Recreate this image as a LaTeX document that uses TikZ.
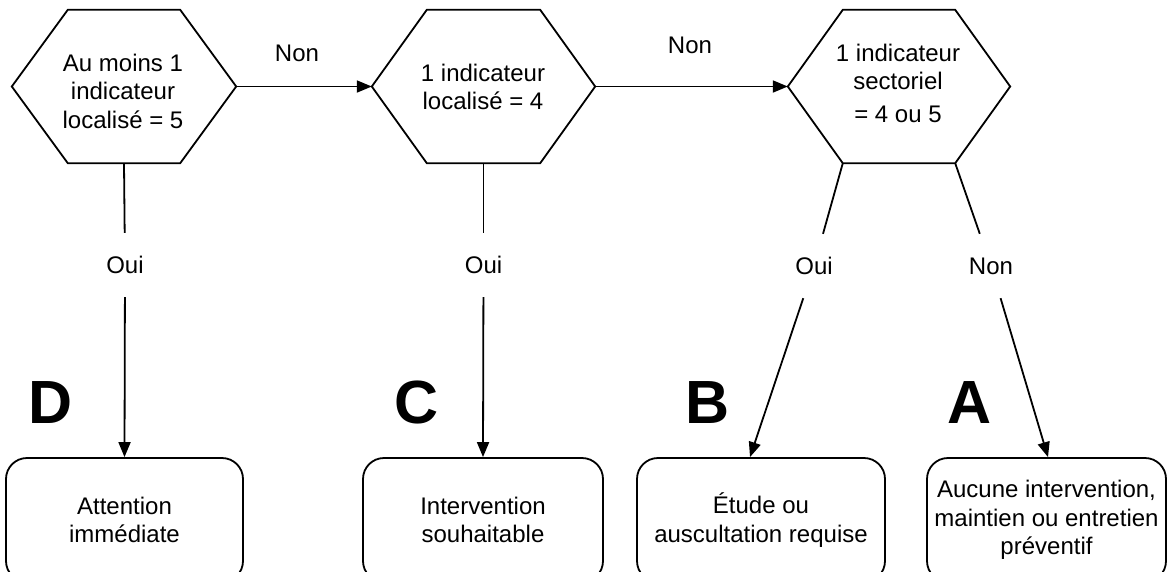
\documentclass[tikz,border=0pt]{standalone}
\usepackage{fontspec}
\setmainfont{Liberation Sans}
\usetikzlibrary{arrows.meta,calc}
\newcommand\hexoutline[2]{\draw[ln] (#1.west) -- ([xshift=#2]#1.north west) -- ([xshift=-#2]#1.north east) -- (#1.east) -- ([xshift=-#2]#1.south east) -- ([xshift=#2]#1.south west) -- cycle;}
\begin{document}
\begin{tikzpicture}[x=1pt,y=-1pt,
  ln/.style={line width=1.8pt, black},
  arr/.style={ln, -{Triangle[length=15pt,width=12pt]}},
  txt/.style={font=\fontsize{24}{28.5}\selectfont, align=center, inner sep=0pt},
  hexnode/.style={minimum height=153pt, inner sep=0pt},
  yesno/.style={txt, minimum height=64pt, minimum width=40pt},
  outbox/.style={ln, draw, rounded corners=21pt, minimum height=124pt, txt},
  big/.style={font=\fontsize{61}{61}\selectfont\bfseries, inner sep=0pt, anchor=base}
]
\useasboundingbox (0,0) rectangle (1168,571);
\clip (0,0) rectangle (1168,571);

% hexagons
\node[hexnode, minimum width=224pt] (h1) at (124,86.5) {};
\node[hexnode, minimum width=223pt] (h2) at (483.5,86.5) {};
\node[hexnode, minimum width=222pt] (h3) at (899,86.5) {};
\hexoutline{h1}{56}
\hexoutline{h2}{55}
\hexoutline{h3}{55}
\node[txt] (t1) at (123,91) {Au moins 1\\indicateur\\localisé = 5};
\node[txt] (t2) at (483,87) {1 indicateur\\localisé = 4};
\node[txt] (t3) at (898,83) {1 indicateur\\sectoriel\\[4pt]= 4 ou 5};

\coordinate (h3bl) at ([xshift=55]h3.south west);
\coordinate (h3br) at ([xshift=-55]h3.south east);

% outcome boxes
\node[outbox, minimum width=237pt] (bD) at (124.5,520) {Attention\\immédiate};
\node[outbox, minimum width=240pt] (bC) at (483,520) {Intervention\\souhaitable};
\node[outbox, minimum width=248pt] (bB) at (761,520) {Étude ou\\auscultation requise};
\node[outbox, minimum width=239pt] (bA) at (1046.5,520) {Aucune intervention,\\maintien ou entretien\\préventif};

% big letters
\node[big] (lD) at (51,423) {D};
\node[big] (lC) at (417,423) {C};
\node[big] (lB) at (708,423) {B};
\node[big] (lA) at (970,423) {A};

% horizontal Non arrows
\draw[arr] (h1.east) -- (h2.west);
\draw[arr] (h2.east) -- (h3.west);
\node[txt] (n1) at (297,53) {Non};
\node[txt] (n2) at (690,45) {Non};

% yes/no labels
\node[yesno] (o1) at (125,265) {Oui};
\node[yesno] (o2) at (483.5,265) {Oui};
\node[yesno] (o3) at (814,266) {Oui};
\node[yesno] (n3) at (991,266) {Non};

\draw[ln] (h1.south) -- (o1);
\draw[arr] (o1) -- (bD.north);
\draw[ln] (h2.south) -- (o2);
\draw[arr] (o2) -- (bC.north);
\draw[ln] (h3bl) -- (o3);
\draw[arr] (o3) -- ([xshift=-11]bB.north);
\draw[ln] (h3br) -- (n3);
\draw[arr] (n3) -- ([xshift=1.5]bA.north);
\end{tikzpicture}
\end{document}
